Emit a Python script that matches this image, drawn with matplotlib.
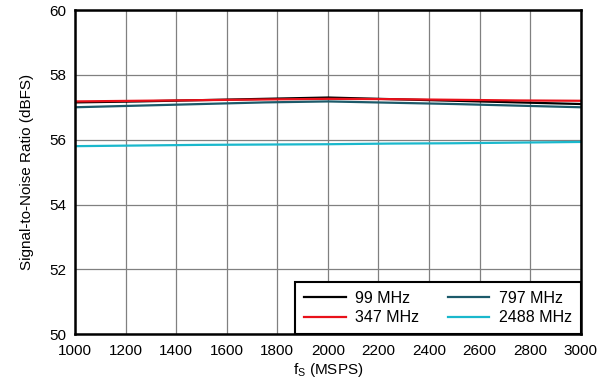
import matplotlib
matplotlib.use("Agg")
import matplotlib.pyplot as plt

plt.rcParams['font.family'] = ['Liberation Sans', 'DejaVu Sans']

fs = [1000, 1250, 1500, 1750, 2000, 2250, 2500, 2750, 3000]
snr_99 = [57.15, 57.18, 57.22, 57.26, 57.30, 57.25, 57.20, 57.15, 57.10]
snr_347 = [57.18, 57.20, 57.22, 57.24, 57.26, 57.25, 57.23, 57.21, 57.20]
snr_797 = [57.00, 57.05, 57.10, 57.15, 57.18, 57.14, 57.10, 57.05, 57.00]
snr_2488 = [55.80, 55.82, 55.84, 55.85, 55.86, 55.88, 55.89, 55.91, 55.93]

labels = ["99 MHz", "347 MHz", "797 MHz", "2488 MHz"]
colors = ["#000000", "#e8111a", "#1c5a6a", "#1ab8cc"]
xticks = list(range(1000, 3001, 200))
yticks = list(range(50, 61, 2))

fig = plt.figure(figsize=(6.14, 3.85), dpi=100)
ax = fig.add_axes([0.122, 0.132, 0.824, 0.842])

for y, lab, c in zip([snr_99, snr_347, snr_797, snr_2488], labels, colors):
    ax.plot(fs, y, color=c, lw=1.6, label=lab)

ax.set_xlim(1000, 3000)
ax.set_ylim(50, 60)
ax.set_xticks(xticks)
ax.set_yticks(yticks)
ax.tick_params(axis='both', length=0, labelsize=11)
ax.tick_params(axis='x', pad=7)
ax.tick_params(axis='y', pad=6)
ax.grid(True, color='#808080', lw=0.9)
ax.set_axisbelow(True)
for s in ax.spines.values():
    s.set_linewidth(1.8)
ax.set_xlabel("f$_\\mathregular{S}$ (MSPS)", fontsize=11, labelpad=2)
ax.set_ylabel("Signal-to-Noise Ratio (dBFS)", fontsize=11, labelpad=11)

leg = ax.legend(ncol=2, loc='lower right', bbox_to_anchor=(1.0, 0.0),
                fontsize=11.5, frameon=True, fancybox=False, framealpha=1,
                edgecolor='black', borderpad=0.55, handlelength=2.6,
                columnspacing=1.8, handletextpad=0.6, labelspacing=0.3,
                borderaxespad=0)
leg.get_frame().set_linewidth(1.5)

fig.savefig("out.png", dpi=100)
